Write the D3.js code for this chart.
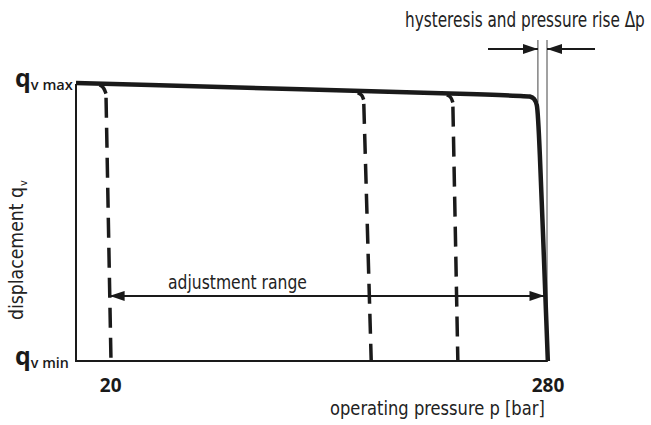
<!DOCTYPE html>
<html>
<head>
<meta charset="utf-8">
<script src="https://cdn.jsdelivr.net/npm/d3@7"></script>
<style>
  html, body { margin: 0; padding: 0; background: #fff; }
  svg { display: block; }
  .lite { font-family: "Liberation Sans Narrow", "DejaVu Sans Condensed", "Liberation Sans", sans-serif; font-stretch: condensed; fill: #222; }
  .bold { font-family: "Open Sans", "DejaVu Sans", sans-serif; font-weight: bold; fill: #1a1a1a; }
</style>
</head>
<body>
<div id="chart"></div>
<script>
// pressure p [bar] vs displacement q (1 = qv max, 0 = qv min)
const pressureTicks = [20, 280];
const solidCurve = [[0, 1.0], [266, 0.955], [270, 0.952], [272.5, 0.945], [274, 0.925], [275, 0.88], [280.5, 0]];
// three pressure-cutoff settings: hook start, hook end, bottom
const dashedSettings = [
  [[14, 0.993], [16.5, 0.985], [17.8, 0.962], [20.8, 0]],
  [[167.5, 0.965], [170, 0.958], [171, 0.94], [175.5, 0]],
  [[220.5, 0.957], [223, 0.95], [224, 0.93], [227, 0]]
];
const adjustRange = { from: 20, to: 278.5, q: 0.234, label: "adjustment range" };
const hysteresis = { p1: 274.6, p2: 280, label: "hysteresis and pressure rise \u0394p" };

const W = 651, H = 425;
const x = d3.scaleLinear().domain([0, 280]).range([76, 547]);
const y = d3.scaleLinear().domain([0, 1]).range([361, 83]);

const svg = d3.select("#chart").append("svg").attr("width", W).attr("height", H);

// condensed text: squeeze horizontally to a target width with a transform
function narrowText(parent, str, left, baseline, size, width) {
  const t = parent.append("text").attr("class", "lite").attr("font-size", size).text(str);
  const natural = t.node().getComputedTextLength();
  t.attr("transform", `translate(${left},${baseline}) scale(${width / natural},1)`);
  return t;
}

const defs = svg.append("defs");
defs.append("marker")
  .attr("id", "head").attr("viewBox", "0 -5 15 10").attr("refX", 15).attr("refY", 0)
  .attr("markerWidth", 15).attr("markerHeight", 10).attr("markerUnits", "userSpaceOnUse")
  .attr("orient", "auto-start-reverse")
  .append("path").attr("d", "M0,-5L15,0L0,5Z").attr("fill", "#1a1a1a");

// frame: left axis and bottom axis
svg.append("line").attr("x1", x(0)).attr("x2", x(0)).attr("y1", y(1) + 1).attr("y2", y(0))
  .attr("stroke", "#1a1a1a").attr("stroke-width", 2);
svg.append("line").attr("x1", x(0) - 1).attr("x2", x(280.5)).attr("y1", y(0)).attr("y2", y(0))
  .attr("stroke", "#1a1a1a").attr("stroke-width", 2);

const lineXY = d3.line().x(d => x(d[0])).y(d => y(d[1])).curve(d3.curveBasis);

// hysteresis thin lines
[hysteresis.p1, hysteresis.p2].forEach((p, i) => {
  svg.append("line").attr("x1", x(p)).attr("x2", x(p))
    .attr("y1", 40).attr("y2", i === 0 ? y(0.93) : y(0))
    .attr("stroke", "#444").attr("stroke-width", 1);
});

// dashed setting lines
dashedSettings.forEach(pts => {
  svg.append("path").attr("d", lineXY(pts.slice(0, 3)))
    .attr("fill", "none").attr("stroke", "#1a1a1a").attr("stroke-width", 3.5);
  const start = [pts[2][0] + (pts[3][0] - pts[2][0]) * 0.02, pts[2][1] - 0.015];
  svg.append("path").attr("d", d3.line().x(d => x(d[0])).y(d => y(d[1]))([start, pts[3]]))
    .attr("fill", "none").attr("stroke", "#1a1a1a").attr("stroke-width", 3.5)
    .attr("stroke-dasharray", "20,10");
});

// main solid characteristic
svg.append("path").attr("d", lineXY(solidCurve))
  .attr("fill", "none").attr("stroke", "#1a1a1a").attr("stroke-width", 4.5)
  .attr("stroke-linejoin", "round").attr("stroke-linecap", "butt");

// adjustment range arrow
svg.append("line")
  .attr("x1", x(adjustRange.from)).attr("x2", x(adjustRange.to))
  .attr("y1", y(adjustRange.q)).attr("y2", y(adjustRange.q))
  .attr("stroke", "#1a1a1a").attr("stroke-width", 2)
  .attr("marker-start", "url(#head)").attr("marker-end", "url(#head)");
narrowText(svg, adjustRange.label, 168, 289, 20, 139);

// hysteresis arrows
svg.append("line").attr("x1", 488).attr("x2", x(hysteresis.p1)).attr("y1", 49).attr("y2", 49)
  .attr("stroke", "#1a1a1a").attr("stroke-width", 2).attr("marker-end", "url(#head)");
svg.append("line").attr("x1", 595).attr("x2", x(hysteresis.p2)).attr("y1", 49).attr("y2", 49)
  .attr("stroke", "#1a1a1a").attr("stroke-width", 2).attr("marker-end", "url(#head)");
narrowText(svg, hysteresis.label, 405, 27, 21, 240);

// x tick labels
svg.selectAll(".tick").data(pressureTicks).enter().append("text")
  .attr("class", "bold").attr("x", d => x(d) + 1).attr("y", 392)
  .attr("text-anchor", "middle").attr("font-size", 19).text(d => d);

// x axis title
narrowText(svg, "operating pressure p [bar]", 330, 415, 20, 215);

// y level labels
[["v max", 1, 42], ["v min", 0, 38]].forEach(([sub, q, len]) => {
  const t = svg.append("text").attr("class", "bold").attr("x", 15).attr("y", y(q) + 4);
  t.append("tspan").attr("font-size", 25).text("q");
  t.append("tspan").attr("font-size", 15).attr("font-weight", 600).attr("dy", 3).attr("textLength", len)
    .attr("lengthAdjust", "spacingAndGlyphs").text(sub);
});

// y axis title
const yg = svg.append("g").attr("transform", "translate(23,320) rotate(-90)");
const yt = narrowText(yg, "displacement q", 0, 0, 20, 133);
yg.append("text").attr("class", "lite").attr("x", 134).attr("y", 4)
  .attr("font-size", 11).text("v");
</script>
</body>
</html>
